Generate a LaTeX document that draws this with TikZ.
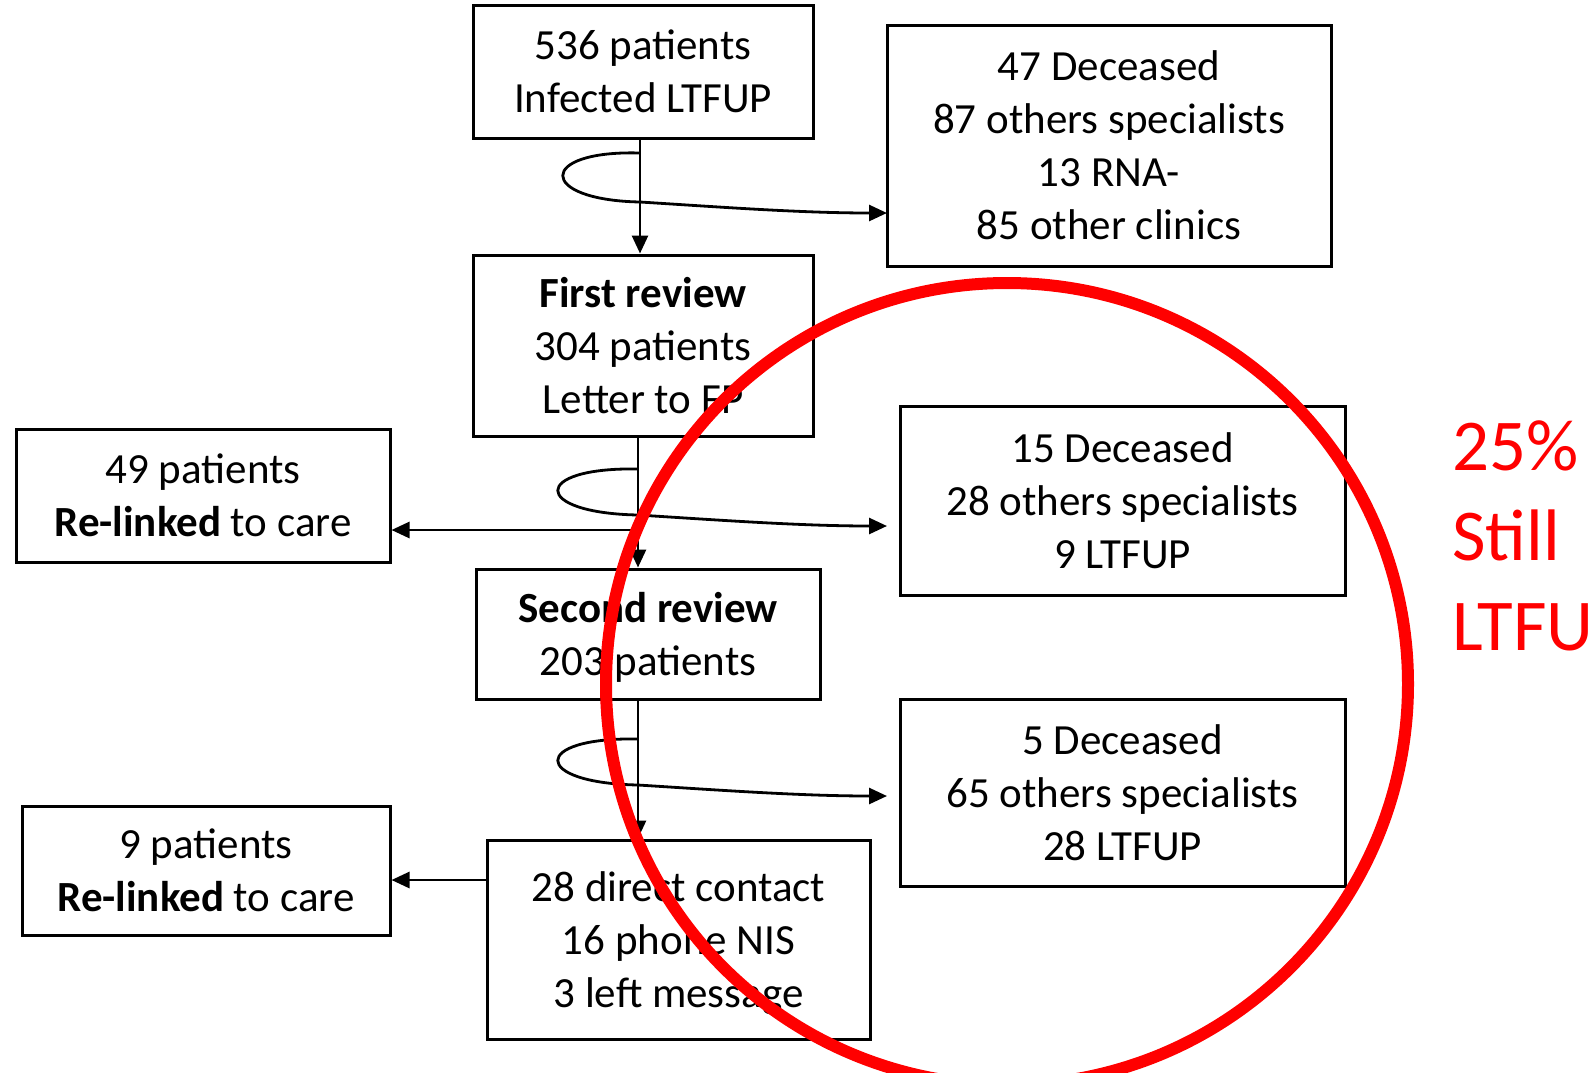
\documentclass[tikz,border=0pt]{standalone}
\usepackage{fontspec}
\setmainfont{Carlito}
\usetikzlibrary{arrows.meta}

\begin{document}
\begin{tikzpicture}[x=1pt,y=-1pt,
        box/.style={draw,rectangle,line width=3pt,align=center,inner sep=0pt,text depth=-8pt,font=\fontsize{43}{53}\selectfont},
        flow/.style={line width=2.8pt,-{Triangle[length=18pt,width=16pt]}},
        note/.style={text=red,inner sep=0pt,anchor=base west,font=\fontsize{73}{90}\selectfont}]
                \useasboundingbox (0,0) rectangle (1596,1072);
                \node[box,minimum width=340,minimum height=133] (infected) at (643,71.5) {536 patients\\Infected LTFUP};
                \node[box,minimum width=444,minimum height=241] (others1) at (1109,145.5) {47 Deceased\\87 others specialists\\13 RNA-\\85 other clinics};
                \node[box,minimum width=340,minimum height=181] (first) at (643,345.5) {\textbf{First review}\\304 patients\\Letter to FP};
                \node[box,minimum width=374,minimum height=133] (relinked1) at (203,495.5) {49 patients\\\textbf{Re-linked} to care};
                \node[box,minimum width=445,minimum height=189] (others2) at (1122.5,500.5) {15 Deceased\\28 others specialists\\9 LTFUP};
                \node[box,minimum width=344,minimum height=130,text depth=0pt] (second) at (648,634) {\textbf{Second review}\\203 patients};
                \node[box,minimum width=445,minimum height=187] (others3) at (1122.5,792.5) {5 Deceased\\65 others specialists\\28 LTFUP};
                \node[box,minimum width=368,minimum height=129] (relinked2) at (206,870.5) {9 patients\\\textbf{Re-linked} to care};
                \node[box,minimum width=383,minimum height=199,text depth=0pt] (contact) at (678.5,939.5) {28 direct contact\\16 phone NIS\\3 left message};

                % loops of the connectors
                \coordinate (top1) at (640,153);
                \coordinate (mid1) at (640,202);
                \coordinate (tip1) at (887,213);
                \coordinate (top2) at (638,469);
                \coordinate (mid2) at (638,515);
                \coordinate (tip2) at (887,526);
                \coordinate (top3) at (638,739);
                \coordinate (mid3) at (638,785);
                \coordinate (tip3) at (887,796);

                \draw[flow] (infected.south -| top1) -- (first.north -| top1);
                \draw[flow] (first.south -| top2) -- (second.north -| top2);
                \draw[flow] (second.south -| top3) -- (contact.north -| top3);
                \draw[flow] (top1) .. controls (537,150) and (537,200) .. (mid1) .. controls (720,207) and (800,213) .. (tip1);
                \draw[flow] (top2) .. controls (531,467) and (531,513) .. (mid2) .. controls (718,520) and (800,526) .. (tip2);
                \draw[flow] (top3) .. controls (531,737) and (531,783) .. (mid3) .. controls (718,790) and (800,796) .. (tip3);
                \draw[flow] (top2 |- 0,530) -- (relinked1.east |- 0,530);
                \draw[flow] (contact.west |- 0,880) -- (relinked2.east |- 0,880);

                \draw[red,line width=12pt] (1007,684) circle (401);
                \node[note] (pct) at (1452,470) {25\%};
                \node[note] (still) at (1452,560) {Still};
                \node[note] (ltfu) at (1452,650) {LTFU};
\end{tikzpicture}
\end{document}
